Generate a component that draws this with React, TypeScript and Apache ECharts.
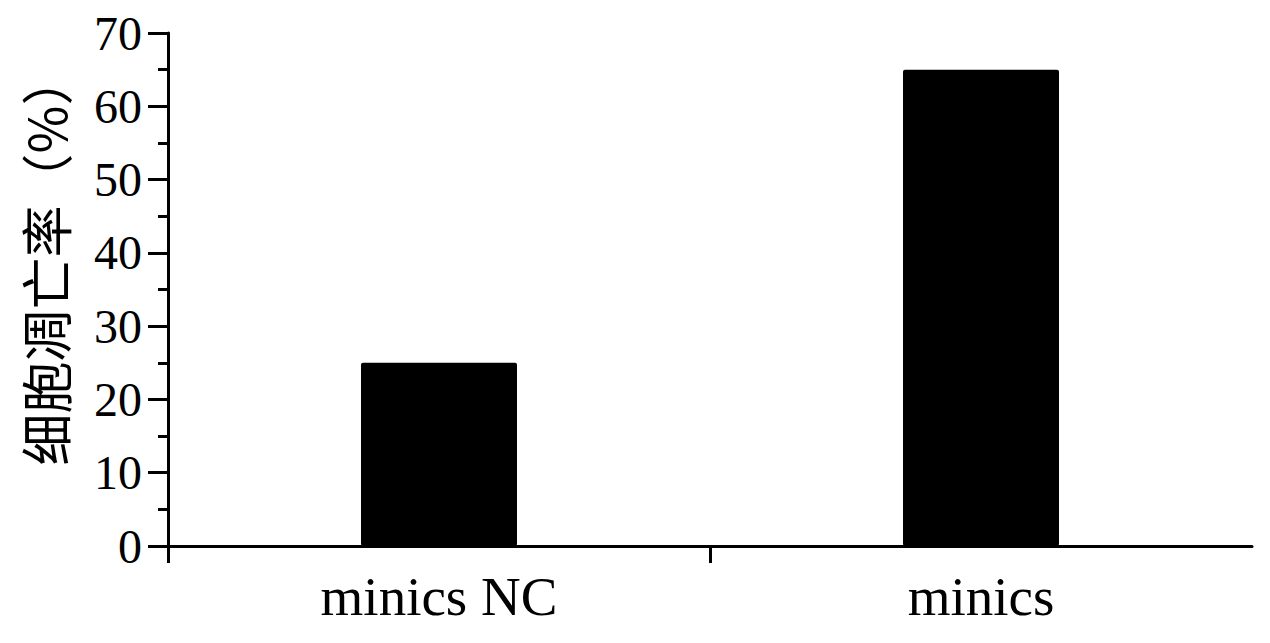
import React, { useEffect, useRef } from "react";
import * as echarts from "echarts";

const categories = ["minics NC", "minics"];
const apoptosisRate = [25, 65];
const yTicks = [0, 10, 20, 30, 40, 50, 60, 70];
const yAxisName = "细胞凋亡率（%）";

export default function App() {
  const ref = useRef<HTMLDivElement>(null);
  useEffect(() => {
    if (!ref.current) return;
    const chart = echarts.init(ref.current, undefined, { renderer: "svg" });
    const serif = "'Liberation Serif', 'Times New Roman', serif";
    chart.setOption({
      animation: false,
      backgroundColor: "#ffffff",
      grid: { left: 168, right: 18, top: 33, bottom: 97, containLabel: false },
      xAxis: [
        {
          type: "category",
          data: categories,
          boundaryGap: true,
          axisLine: { show: true, lineStyle: { color: "#000", width: 3 } },
          axisTick: { show: false },
          axisLabel: {
            color: "#000",
            fontFamily: serif,
            fontSize: 55,
            margin: 23,
          },
          splitLine: { show: false },
        },
        {
          type: "value",
          min: 0,
          max: categories.length,
          position: "bottom",
          axisLine: { show: false },
          axisLabel: { show: false },
          splitLine: { show: false },
          axisTick: {
            show: true,
            customValues: [0, 1],
            length: 17,
            lineStyle: { color: "#000", width: 3 },
          },
        },
      ],
      yAxis: {
        type: "value",
        min: yTicks[0],
        max: yTicks[yTicks.length - 1],
        interval: 10,
        name: yAxisName,
        nameLocation: "middle",
        nameGap: 98,
        nameRotate: 90,
        nameTextStyle: {
          color: "#000",
          fontSize: 52,
          fontFamily: "'Noto Sans CJK SC', 'Liberation Serif', serif",
          padding: [0, 0, 0, 60],
        },
        axisLine: { show: true, lineStyle: { color: "#000", width: 3 } },
        axisTick: {
          show: true,
          length: 20,
          lineStyle: { color: "#000", width: 3 },
        },
        minorTick: {
          show: true,
          splitNumber: 2,
          length: 10,
          lineStyle: { color: "#000", width: 3 },
        },
        axisLabel: {
          color: "#000",
          fontFamily: serif,
          fontSize: 48,
          margin: 26,
        },
        splitLine: { show: false },
        minorSplitLine: { show: false },
      },
      series: [
        {
          type: "bar",
          xAxisIndex: 0,
          data: apoptosisRate,
          barWidth: 156,
          itemStyle: { color: "#000", borderRadius: 2 },
        },
      ],
    });
    return () => chart.dispose();
  }, []);
  return (
    <div
      ref={ref}
      style={{ position: "fixed", left: 0, top: 0, width: 1270, height: 643, background: "#fff" }}
    />
  );
}
